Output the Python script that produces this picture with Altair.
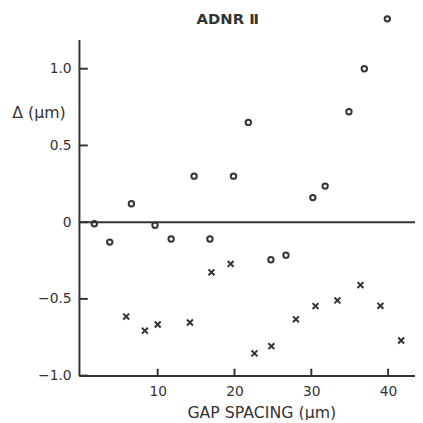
import altair as alt
import pandas as pd

# open circles
circle_x = [1.75, 3.76, 6.58, 9.65, 11.75, 14.74, 16.8, 19.87, 21.8, 24.74, 26.7, 30.2, 31.8, 34.9, 36.9, 39.9]
circle_y = [-0.01, -0.13, 0.12, -0.02, -0.11, 0.30, -0.11, 0.30, 0.65, -0.245, -0.215, 0.16, 0.235, 0.72, 1.0, 1.325]

# crosses
cross_x = [5.9, 8.33, 10.0, 14.2, 17.0, 19.5, 22.6, 24.8, 28.0, 30.55, 33.4, 36.4, 39.0, 41.7]
cross_y = [-0.615, -0.707, -0.667, -0.654, -0.327, -0.272, -0.855, -0.808, -0.633, -0.547, -0.51, -0.41, -0.545, -0.771]

x_ticks = [10, 20, 30, 40]
y_ticks = [-1.0, -0.5, 0.0, 0.5, 1.0]

title_text = "ADNR Ⅱ"
x_title = "GAP SPACING (μm)"
y_title = "Δ (μm)"

INK = "#333333"
FONT = "DejaVu Sans"

X_MIN, X_MAX = -0.25, 43.5
Y_MIN, Y_MAX = -1.0, 1.19

circles = pd.DataFrame({"x": circle_x, "y": circle_y})
crosses = pd.DataFrame({"x": cross_x, "y": cross_y})
# inward tick marks (short lengths expressed in data units)
xt = pd.DataFrame({"x": x_ticks, "y": [Y_MIN] * len(x_ticks), "y2": [Y_MIN + 0.045] * len(x_ticks)})
yt = pd.DataFrame({"y": y_ticks, "x": [X_MIN] * len(y_ticks), "x2": [X_MIN + 1.15] * len(y_ticks)})
zero = pd.DataFrame({"y": [0.0]})

xs = alt.Scale(domain=[X_MIN, X_MAX], nice=False, zero=False)
ys = alt.Scale(domain=[Y_MIN, Y_MAX], nice=False, zero=False)

x_axis = alt.Axis(
    values=x_ticks, format="d", title=x_title, grid=False, ticks=False,
    domainColor=INK, domainWidth=2, labelColor=INK, labelFont=FONT, labelFontSize=14,
    labelPadding=9, titleFont=FONT, titleFontSize=16, titleFontWeight="normal",
    titleColor=INK, titleX=185, titleAlign="center", titlePadding=6)
y_axis = alt.Axis(
    values=y_ticks, labelExpr="datum.value == 0 ? '0' : format(datum.value, '.1f')",
    title=y_title, grid=False, ticks=False, domainColor=INK, domainWidth=2,
    labelColor=INK, labelFont=FONT, labelFontSize=14, labelPadding=8,
    titleFont=FONT, titleFontSize=16, titleFontWeight="normal", titleColor=INK,
    titleAngle=0, titleX=-41, titleY=74, titleAlign="center", titleBaseline="middle")

X = alt.X("x:Q", scale=xs, axis=x_axis, title=x_title)
Y = alt.Y("y:Q", scale=ys, axis=y_axis, title=y_title)

circ_layer = alt.Chart(circles).mark_point(
    shape="circle", filled=False, size=30, strokeWidth=2, color=INK, opacity=1
).encode(x=X, y=Y)

cross_layer = alt.Chart(crosses).mark_point(
    shape="M-1,-1L1,1M-1,1L1,-1", filled=False, size=36, strokeWidth=2, color=INK, opacity=1
).encode(x=X, y=Y)

zero_line = alt.Chart(zero).mark_rule(color=INK, strokeWidth=2).encode(y=Y)

yticks_layer = alt.Chart(yt).mark_rule(color=INK, strokeWidth=2).encode(
    y=Y, x=X, x2="x2:Q")

xticks_layer = alt.Chart(xt).mark_rule(color=INK, strokeWidth=2).encode(
    x=X, y=Y, y2="y2:Q")

title_layer = alt.Chart(pd.DataFrame({"t": [title_text]})).mark_text(
    font=FONT, fontSize=15, fontWeight="bold", color=INK, align="center", baseline="middle"
).encode(text="t:N", x=alt.value(151), y=alt.value(-21))

chart = alt.layer(
    zero_line, yticks_layer, xticks_layer, circ_layer, cross_layer, title_layer
).properties(
    width=341, height=341, autosize="none",
    padding={"left": 72, "top": 29, "right": 0, "bottom": 42},
    background="white",
).configure_view(stroke=None)

chart.save("out.html", embed_options={"renderer": "svg", "actions": False})
